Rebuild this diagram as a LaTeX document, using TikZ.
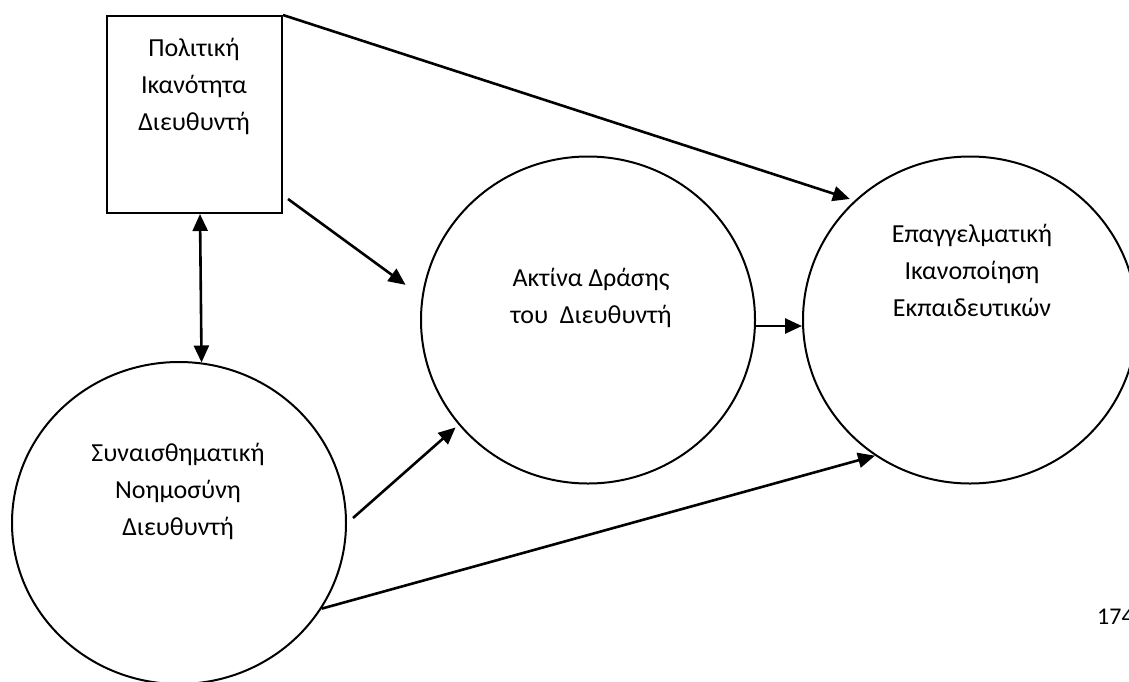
\documentclass[tikz,border=0pt]{standalone}
\usepackage{fontspec}
\setmainfont{Carlito}
\usetikzlibrary{arrows.meta,shapes.geometric}
\begin{document}
\begin{tikzpicture}[x=1pt,y=-1pt,
  shapeline/.style={draw=black,line width=2pt},
  bubble/.style={shapeline,ellipse,inner sep=0pt,minimum width=334pt,minimum height=327pt},
  caption/.style={font=\fontsize{26}{37}\selectfont,align=center,inner sep=0pt},
  arr/.style={line width=2.6pt,-{Triangle[length=17pt,width=15pt]}},
  dblarr/.style={line width=2.6pt,{Triangle[length=17pt,width=15pt]}-{Triangle[length=17pt,width=15pt]}}]
\useasboundingbox[fill=white] (0,0) rectangle (1129,681);

% the four factors of the model
\node[shapeline,rectangle,minimum width=175pt,minimum height=197pt,inner sep=0pt] (pol) at (194.5,114.5) {};
\node[caption] (polt) at (194,86) {Πολιτική\\Ικανότητα\\Διευθυντή};

\node[bubble] (act) at (588,320) {};
\node[caption] (actt) at (591,298) {Ακτίνα Δράσης\\του\ \ Διευθυντή};

\node[bubble] (epa) at (970,320) {};
\node[caption] (epat) at (972,270) {Επαγγελματική\\Ικανοποίηση\\Εκπαιδευτικών};

\node[bubble,minimum height=322pt] (syn) at (179,523) {};
\node[caption] (synt) at (178,491) {Συναισθηματική\\Νοημοσύνη\\Διευθυντή};

% page number
\node[font=\fontsize{24}{29}\selectfont,anchor=base west,inner sep=0pt] (page) at (1097,624) {174};

% paths between the factors
\draw[arr,shorten >=5pt] (pol.north east) -- (epa.134);
\draw[arr,shorten >=20pt] ([shift={(5,-15)}]pol.south east) -- (act.172);
\draw[dblarr] ([xshift=5.5pt]pol.south) -- (syn.82.5);
\draw[arr,shorten >=4pt] ([shift={(6,-5)}]syn.east) -- (act.219);
\draw[arr] ([yshift=-6pt]act.east) -- ([yshift=-6pt]epa.west);
\draw[arr] (syn.-31) -- (epa.235);
\end{tikzpicture}
\end{document}
